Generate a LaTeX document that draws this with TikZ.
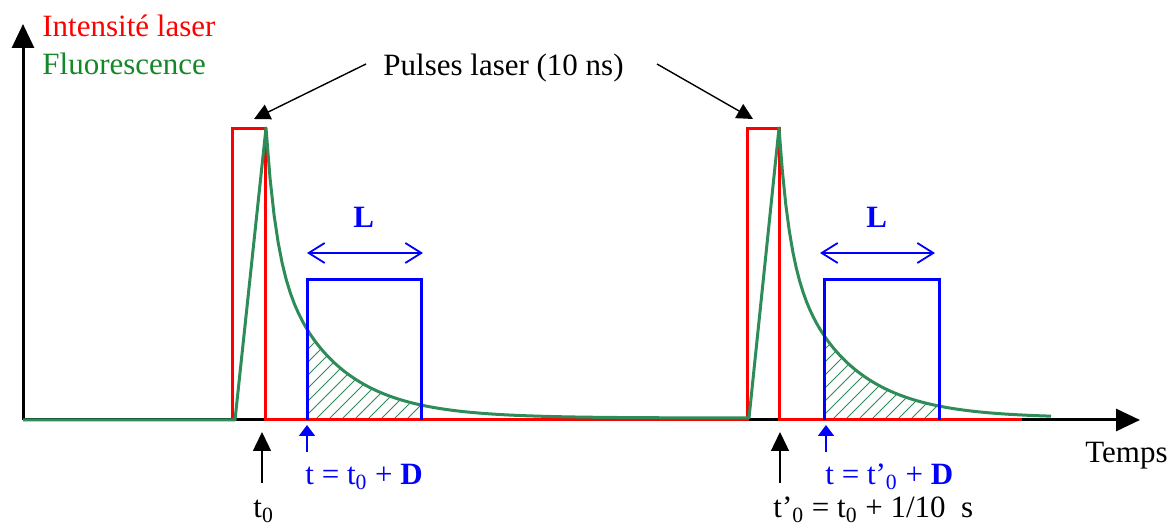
\documentclass[tikz,border=0pt]{standalone}
\usepackage{fontspec}
\setmainfont{Liberation Serif}
\usepackage{xcolor}
\usetikzlibrary{arrows.meta}
\definecolor{fluocurve}{RGB}{46,140,88}
\definecolor{fluotext}{RGB}{20,135,40}

\begin{document}
\begin{tikzpicture}[
  x=0.5pt, y=-0.5pt,
  declare function={fl(\d)=118*exp(-\d/10)+172*exp(-\d/60);},
  font=\fontsize{15.5}{18}\selectfont,
  axe/.style={line width=1.5pt, -{Triangle[length=12pt,width=11pt]}},
  laser/.style={red, line width=1.5pt, line join=miter},
  fluo/.style={fluocurve, line width=1.5pt, line join=round},
  gate/.style={blue, line width=1.5pt},
  hatch/.style={fluocurve, line width=0.5pt},
  barb/.style={blue, line width=0.9pt, {Straight Barb[length=8pt,width=10pt]}-{Straight Barb[length=8pt,width=10pt]}},
  ptr/.style={black, line width=0.7pt, -{Triangle[length=8pt,width=8pt]}},
  up/.style={black, line width=0.7pt, -{Triangle[length=9.5pt,width=9pt]}},
  upblue/.style={blue, line width=0.8pt, -{Triangle[length=5.5pt,width=8pt]}},
  lab/.style={anchor=base west, inner sep=0pt}
]
\useasboundingbox (0,0) rectangle (1168,528);

% axes
\coordinate (origin) at (23,420);
\coordinate (ytip) at (23,24);
\coordinate (xtip) at (1140,420);
\draw[axe] (origin) -- (ytip);
\draw[axe] (origin) -- (xtip);

% hatched signal in the gates
\foreach \p/\g in {266/307, 779/824} {
  \begin{scope}
    \clip (\g,420) -- plot[domain=\g:\g+114, samples=40] (\x,{418-fl(\x-\p)}) -- (\g+114,420) -- cycle;
    \foreach \i in {0,...,16}
      \draw[hatch] (\g+8+13*\i-104,420) -- ++(100,-100);
  \end{scope}
}

% laser pulses
\draw[laser] (232,420) -- (232,129) -- (265,129) -- (265,420) -- (747,420)
  -- (747,129) -- (779,129) -- (779,420) -- (1022,420);

% fluorescence
\draw[fluo] (origin) -- (235,420) -- (266,128)
  -- plot[domain=266:749, samples=120] (\x,{418-fl(\x-266)})
  -- (779,128)
  -- plot[domain=779:1051, samples=80] (\x,{418-fl(\x-779)});

% detection gates
\draw[gate] (307,420) -- (307,280) -- (421,280) -- (421,420);
\draw[gate] (824,420) -- (824,280) -- (939,280) -- (939,420);
\coordinate (gA1) at (307,253);
\coordinate (gB1) at (423,253);
\coordinate (gA2) at (820,253);
\coordinate (gB2) at (935,253);
\draw[barb] (gA1) -- (gB1);
\draw[barb] (gA2) -- (gB2);
\node[lab, blue] (L1) at (353,228) {\textbf{L}};
\node[lab, blue] (L2) at (866,228) {\textbf{L}};

% legend
\node[lab, red] (leglaser) at (42,37) {Intensité laser};
\node[lab, fluotext] (legfluo) at (42,75) {Fluorescence};
\node[lab] (temps) at (1085,463) {Temps};

% pulses label
\node[lab] (pulses) at (383,76) {Pulses laser (10 ns)};
\coordinate (pl) at (366,64);
\coordinate (pr) at (657,64);
\coordinate (peak1) at (254,119);
\coordinate (peak2) at (753,119);
\draw[ptr] (pl) -- (peak1);
\draw[ptr] (pr) -- (peak2);

% time marks
\coordinate (m1) at (262,483);
\coordinate (m1t) at (262,432);
\coordinate (m2) at (780,483);
\coordinate (m2t) at (780,432);
\draw[up] (m1) -- (m1t);
\draw[up] (m2) -- (m2t);
\node[lab] (tzero) at (253,518) {t\textsubscript{0}};
\node[lab] (tzerob) at (773,518) {t'\textsubscript{0} = t\textsubscript{0} + 1/10~ s};

\coordinate (d1) at (307,452);
\coordinate (d1t) at (307,425);
\coordinate (d2) at (826,452);
\coordinate (d2t) at (826,425);
\draw[upblue] (d1) -- (d1t);
\draw[upblue] (d2) -- (d2t);
\node[lab, blue] (gate1) at (305,485) {t = t\textsubscript{0} + \textbf{D}};
\node[lab, blue] (gate2) at (825,485) {t = t'\textsubscript{0} + \textbf{D}};
\end{tikzpicture}
\end{document}
